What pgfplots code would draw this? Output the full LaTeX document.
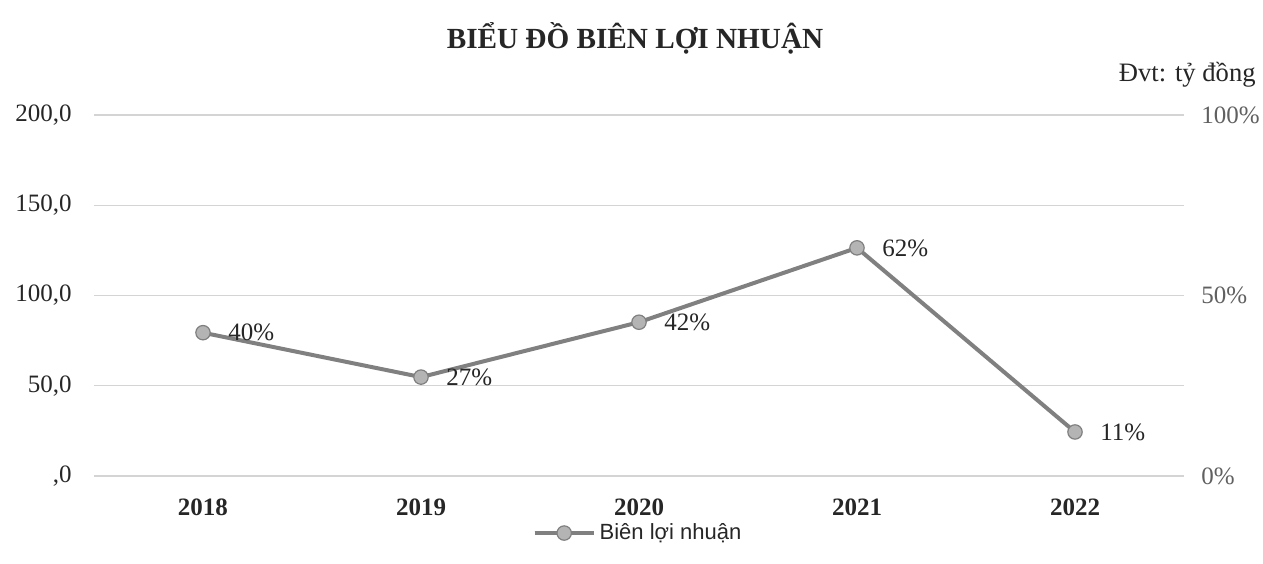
\documentclass[border=0pt]{standalone}
\usepackage{pgfplots}
\pgfplotsset{compat=1.18}
\usepackage{fontspec}
\setmainfont{Liberation Serif}
\setsansfont{Liberation Sans}
\definecolor{linegray}{HTML}{808080}
\definecolor{markfill}{HTML}{B4B4B4}
\definecolor{gridgray}{HTML}{D4D4D4}
\definecolor{txt}{HTML}{262626}
\definecolor{rtxt}{HTML}{606060}
\pgfplotsset{
  legend image code/.code={
    \draw[#1] (0pt,0pt) -- (29.5pt,0pt);
    \draw[#1, mark repeat=2, mark phase=2] plot coordinates {(0pt,0pt) (14.75pt,0pt) (29.5pt,0pt)};
  }
}
\begin{document}
\begin{tikzpicture}
% left axis with grid
\begin{axis}[
  scale only axis, width=545pt, height=180.5pt,
  at={(0,0)}, anchor=south west,
  xmin=-0.5, xmax=4.5, ymin=0, ymax=200,
  axis x line=none, axis y line*=left,
  y axis line style={draw=none},
  major tick length=0pt,
  xtick=\empty,
  ytick={0,50,100,150,200},
  yticklabels={{,0},{50,0},{100,0},{150,0},{200,0}},
  yticklabel style={anchor=east, inner sep=0pt, xshift=-11pt, text=txt, font=\fontsize{12.5}{14}\selectfont},
  /pgf/number format/assume math mode=true,
  ymajorgrids, grid style={gridgray, line width=0.6pt},
]
\addplot[draw=none] coordinates {(0,0)};
\end{axis}
% right axis with data
\begin{axis}[
  scale only axis, width=545pt, height=180.5pt,
  at={(0,0)}, anchor=south west,
  xmin=-0.5, xmax=4.5, ymin=0, ymax=100,
  axis x line*=bottom, axis y line*=right,
  x axis line style={draw=none}, y axis line style={draw=none},
  major tick length=0pt,
  xtick={0,1,2,3,4},
  xticklabels={2018,2019,2020,2021,2022},
  xticklabel style={font=\bfseries\fontsize{12.5}{14}\selectfont, text=txt, yshift=-8pt},
  ytick={0,50,100},
  yticklabels={0\%,50\%,100\%},
  yticklabel style={anchor=west, inner sep=0pt, xshift=8.5pt, text=rtxt, font=\fontsize{12.5}{14}\selectfont},
  /pgf/number format/assume math mode=true,
  clip=false,
  legend style={at={(0.5,-0.158)}, anchor=center, draw=none, fill=none,
    font=\sffamily\fontsize{11}{13}\selectfont, text=txt, inner sep=0pt,
    /tikz/every even column/.append style={column sep=0pt}},
  legend cell align=left,
]
\addplot[color=linegray, line width=2pt, mark=*, mark size=3.6pt,
  mark options={fill=markfill, draw=linegray, line width=0.6pt},
  nodes near coords, point meta=explicit symbolic,
  every node near coord/.append style={anchor=west, xshift=9pt, text=txt,
    font=\fontsize{12.5}{14}\selectfont},
] table[meta=lab] {
x y lab
0 39.7 40\%
1 27.4 27\%
2 42.6 42\%
3 63.2 62\%
4 12.2 11\%
};
\addlegendentry{Biên lợi nhuận}
\end{axis}
\node[font=\bfseries\fontsize{14.6}{17}\selectfont, text=txt] at (270.5pt,219pt) {BIỂU ĐỒ BIÊN LỢI NHUẬN};
\node[anchor=east, inner sep=0pt, font=\fontsize{13.3}{16}\selectfont, text=txt] at (581pt,200.5pt) {Đvt: tỷ đồng};
\pgfresetboundingbox
\path[use as bounding box] (-47pt,-43.5pt) rectangle (584.5pt,238pt);
\end{tikzpicture}
\end{document}
